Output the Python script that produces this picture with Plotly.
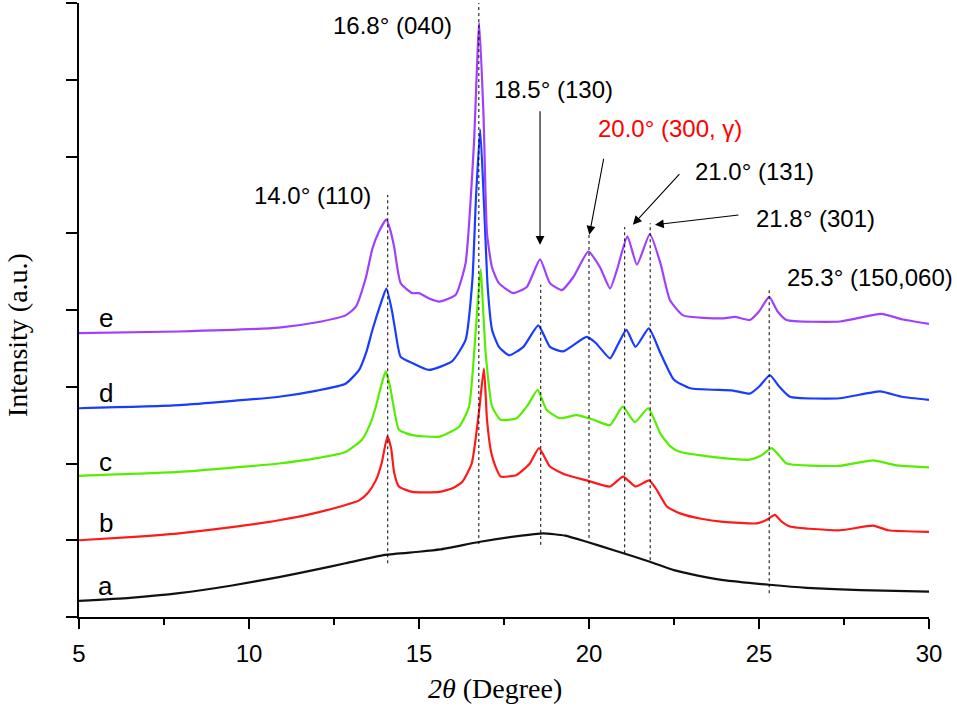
import plotly.graph_objects as go

# curve a
x_a = [5, 6.5, 7.94, 9.5, 10.88, 12, 12.84, 14.0, 15.0, 15.62, 16.8, 17.84, 18.65, 19.3,
       19.93, 20.8, 21.79, 22.5, 23.2, 23.95, 25.3, 26.4, 28, 30]
y_a = [0.21, 0.25, 0.31, 0.41, 0.52, 0.62, 0.70, 0.81, 0.85, 0.88, 0.98, 1.05, 1.09, 1.06,
       0.98, 0.86, 0.72, 0.61, 0.54, 0.48, 0.42, 0.38, 0.35, 0.33]

# curve b
x_b = [5, 6.5, 7.94, 9.5, 10.88, 12, 12.84, 13.24, 13.5, 13.73, 13.9, 14.07, 14.18, 14.27,
       14.41, 14.8, 15.6, 16.0, 16.27, 16.55, 16.76, 16.91, 17.0, 17.12, 17.25, 17.4, 17.87,
       18.26, 18.53, 18.85, 19.34, 19.93, 20.62, 21.0, 21.37, 21.77, 22.0, 22.29, 22.68,
       23.3, 23.95, 24.93, 25.2, 25.47, 25.65, 25.91, 27.38, 28.36, 28.8, 30]
y_b = [1.00, 1.04, 1.09, 1.17, 1.26, 1.36, 1.46, 1.52, 1.62, 1.78, 2.0, 2.35, 2.2, 1.88,
       1.70, 1.63, 1.63, 1.68, 1.76, 2.0, 2.66, 3.24, 2.57, 2.15, 1.96, 1.83, 1.85,
       2.0, 2.20, 1.96, 1.85, 1.78, 1.70, 1.83, 1.70, 1.78, 1.65, 1.44, 1.35,
       1.28, 1.24, 1.22, 1.26, 1.33, 1.25, 1.18, 1.13, 1.19, 1.13, 1.11]

# curve c
x_c = [5, 7.94, 10.88, 12, 12.84, 13.32, 13.55, 13.73, 13.88, 14.02, 14.15, 14.27, 14.41,
       14.8, 15.6, 16.18, 16.47, 16.67, 16.81, 16.96, 17.15, 17.4, 17.87, 18.2, 18.49,
       18.75, 19.15, 19.64, 20.13, 20.62, 20.99, 21.35, 21.74, 22.1, 22.4, 22.68, 23.95,
       24.73, 25.05, 25.37, 25.6, 25.81, 27.38, 28.36, 29, 30]
y_c = [1.84, 1.89, 2.0, 2.07, 2.15, 2.31, 2.5, 2.74, 3.0, 3.20, 3.0, 2.70, 2.44,
       2.37, 2.35, 2.48, 2.74, 3.74, 4.53, 3.44, 2.74, 2.57, 2.59, 2.76, 2.96,
       2.70, 2.59, 2.63, 2.57, 2.50, 2.74, 2.54, 2.72, 2.39, 2.22, 2.15, 2.07,
       2.05, 2.1, 2.20, 2.1, 2.0, 1.97, 2.04, 1.98, 1.95]

# curve d
x_d = [5, 7.94, 10.88, 12, 12.84, 13.24, 13.45, 13.63, 13.85, 14.04, 14.2, 14.3, 14.46,
       14.8, 15.29, 15.97, 16.37, 16.57, 16.68, 16.8, 16.92, 17.02, 17.15, 17.35, 17.65,
       18.07, 18.51, 18.85, 19.24, 19.93, 20.2, 20.62, 20.85, 21.1, 21.37, 21.76, 22.1,
       22.5, 22.98, 24.24, 24.73, 25.0, 25.32, 25.6, 25.91, 27.38, 28.56, 29.2, 30]
y_d = [2.72, 2.76, 2.87, 2.95, 3.04, 3.22, 3.45, 3.74, 4.05, 4.28, 4.0, 3.74, 3.39,
       3.31, 3.22, 3.33, 3.61, 4.39, 5.5, 6.35, 5.3, 4.3, 3.74, 3.52, 3.41,
       3.52, 3.80, 3.52, 3.46, 3.65, 3.57, 3.37, 3.55, 3.74, 3.52, 3.76, 3.44,
       3.09, 2.98, 2.95, 2.91, 3.0, 3.15, 3.0, 2.87, 2.85, 2.94, 2.87, 2.83]

# curve e
x_e = [5, 7.94, 10.88, 12, 12.84, 13.14, 13.43, 13.63, 13.82, 14.04, 14.15, 14.27, 14.46,
       14.8, 15.0, 15.3, 15.6, 16.08, 16.37, 16.5, 16.62, 16.77, 16.9, 17.0, 17.15, 17.35,
       17.77, 18.17, 18.56, 18.85, 19.2, 19.54, 19.98, 20.32, 20.62, 20.82, 21.13, 21.41,
       21.79, 22.1, 22.38, 22.77, 23.95, 24.29, 24.73, 25.0, 25.3, 25.55, 25.81, 27.38,
       28.6, 29.2, 30]
y_e = [3.70, 3.72, 3.77, 3.84, 3.93, 4.04, 4.41, 4.80, 5.02, 5.18, 5.05, 4.82, 4.35,
       4.22, 4.22, 4.15, 4.11, 4.20, 4.61, 5.3, 6.2, 7.74, 6.5, 5.0, 4.55, 4.35,
       4.22, 4.30, 4.66, 4.35, 4.26, 4.43, 4.76, 4.56, 4.28, 4.52, 4.96, 4.59,
       4.99, 4.61, 4.13, 3.93, 3.89, 3.91, 3.87, 3.98, 4.17, 3.98, 3.87, 3.85,
       3.95, 3.88, 3.82]

curves = [("a", x_a, y_a, "#111111"), ("b", x_b, y_b, "#ff1a1a"), ("c", x_c, y_c, "#55ee00"),
          ("d", x_d, y_d, "#1a3cff"), ("e", x_e, y_e, "#a040ff")]
label_y = [0.40, 1.23, 2.02, 2.92, 3.90]

# dotted reference lines: position, bottom, top
peak_x = [14.08, 16.76, 18.58, 20.0, 21.05, 21.8, 25.3]
peak_lo = [0.70, 0.95, 0.94, 1.03, 0.83, 0.74, 0.31]
peak_hi = [5.50, 8.0, 4.33, 5.0, 5.08, 5.13, 4.26]

# peak labels
lab_text = ["14.0° (110)", "16.8° (040)", "18.5° (130)", "20.0° (300, γ)",
            "21.0° (131)", "21.8° (301)", "25.3° (150,060)"]
lab_x = [11.88, 14.22, 18.97, 22.38, 24.88, 26.65, 28.26]
lab_y = [5.49, 7.71, 6.87, 6.36, 5.80, 5.19, 4.43]
lab_col = ["black", "black", "black", "red", "black", "black", "black"]

# arrows: head (x, y) and tail (x, y)
arr_head_x = [18.56, 20.01, 21.29, 21.94]
arr_head_y = [4.85, 4.98, 5.11, 5.11]
arr_tail_x = [18.56, 20.44, 22.70, 24.44]
arr_tail_y = [6.61, 5.99, 5.79, 5.24]

fig = go.Figure()
for name, xs, ys, col in curves:
    fig.add_trace(go.Scatter(x=xs, y=ys, mode="lines", name=name,
                             line=dict(color=col, width=2.2, shape="spline", smoothing=0.5)))

for px, lo, hi in zip(peak_x, peak_lo, peak_hi):
    fig.add_shape(type="line", x0=px, x1=px, y0=lo, y1=hi, xref="x", yref="y",
                  line=dict(color="black", width=1, dash="dot"))

for (name, _, _, _), ly in zip(curves, label_y):
    fig.add_annotation(x=5.78, y=ly, text=name, showarrow=False,
                       font=dict(family="Liberation Sans", size=26, color="black"))

for t, lx, ly, c in zip(lab_text, lab_x, lab_y, lab_col):
    fig.add_annotation(x=lx, y=ly, text=t, showarrow=False,
                       font=dict(family="Liberation Sans", size=24, color=c))

for hx, hy, tx, ty in zip(arr_head_x, arr_head_y, arr_tail_x, arr_tail_y):
    fig.add_annotation(x=hx, y=hy, ax=tx, ay=ty, xref="x", yref="y", axref="x", ayref="y",
                       text="", showarrow=True, arrowhead=2, arrowsize=1.6,
                       arrowwidth=1.1, arrowcolor="black")

# axis titles placed by hand
fig.add_annotation(x=0.489, y=-0.116, xref="paper", yref="paper",
                   xanchor="center", yanchor="middle",
                   text="<i>2θ</i> (Degree)", showarrow=False,
                   font=dict(family="Liberation Serif", size=28, color="black"))
fig.add_annotation(x=-0.073, y=0.459, xref="paper", yref="paper", textangle=-90,
                   xanchor="center", yanchor="middle",
                   text="Intensity (a.u.)", showarrow=False,
                   font=dict(family="Liberation Serif", size=28, color="black"))

fig.update_xaxes(range=[5, 30], tickvals=[5, 10, 15, 20, 25, 30], ticks="outside",
                 ticklen=10, tickwidth=2, tickcolor="black", showline=True,
                 linecolor="black", linewidth=2, showgrid=False, zeroline=False,
                 ticklabelstandoff=4,
                 minor=dict(tickvals=[7.5, 12.5, 17.5, 22.5, 27.5], ticks="outside",
                            ticklen=6, tickwidth=2, tickcolor="black"),
                 tickfont=dict(family="Liberation Sans", size=24, color="black"))
fig.update_yaxes(range=[0, 8], dtick=1, ticks="outside", ticklen=11, tickwidth=2,
                 tickcolor="black", showline=True, linecolor="black", linewidth=2,
                 showgrid=False, zeroline=False, showticklabels=False)
fig.update_layout(width=957, height=706, showlegend=False,
                  margin=dict(l=79, r=28, t=3, b=89),
                  plot_bgcolor="white", paper_bgcolor="white")

# drop the default page margin so the figure sits at the window corner
fig.write_html("out.html", config={"displayModeBar": False},
               post_script="document.body.style.margin='0';")
